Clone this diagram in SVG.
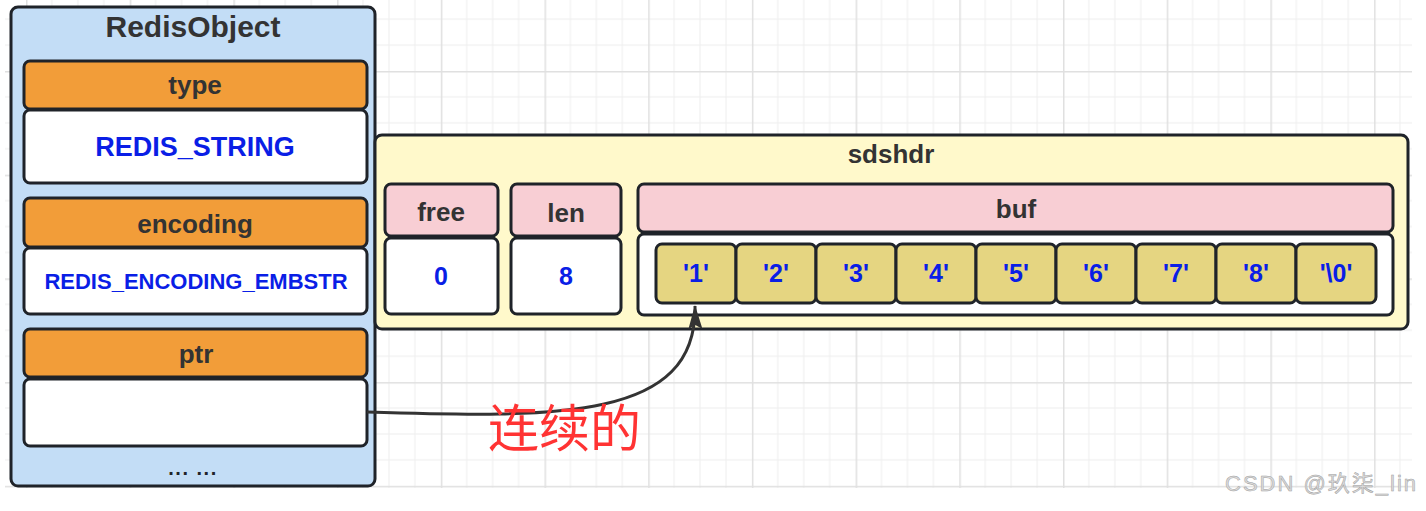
<svg xmlns="http://www.w3.org/2000/svg" width="1426" height="511" viewBox="0 0 1426 511">
<style>
.bx{stroke:#1f2329;stroke-width:3}
.hdr{font-family:"Liberation Sans",Arial,sans-serif;font-weight:bold;font-size:26px;fill:#333333;text-anchor:middle}
.val{font-family:"Liberation Sans",Arial,sans-serif;font-weight:bold;fill:#0a1ee6;text-anchor:middle}
.orange{fill:#f29d39}
.white{fill:#ffffff}
.pink{fill:#f8ced4}
.cell{fill:#e5d581}
</style>
<defs>
<pattern id="grid" patternUnits="userSpaceOnUse" x="26" y="71" width="103.7" height="103.7">
<path d="M25.9 0V103.7M51.85 0V103.7M77.8 0V103.7M0 25.9H103.7M0 51.85H103.7M0 77.8H103.7" stroke="#eeeeee" stroke-width="1" fill="none"/>
<path d="M0.75 0V103.7M0 0.75H103.7" stroke="#e0e0e0" stroke-width="1.5" fill="none"/>
</pattern>
<marker id="arr" markerUnits="userSpaceOnUse" viewBox="0 0 24 14" markerWidth="24" markerHeight="14" refX="23" refY="7" orient="auto">
<path d="M0 0L24 7L0 14L4 7z" fill="#333333"/>
</marker>
</defs>
<rect x="0" y="0" width="1426" height="511" fill="#ffffff"/>
<rect x="5" y="0" width="1407" height="488" fill="url(#grid)"/>

<g id="redisobject">
<rect class="bx" x="11" y="7" width="364" height="479" rx="7" fill="#c3ddf6"/>
<text class="hdr" x="193" y="37" style="font-size:30px">RedisObject</text>
</g>
<g id="type">
<rect class="bx orange" x="24" y="61" width="343" height="48" rx="6"/>
<text class="hdr" x="195" y="94">type</text>
</g>
<g id="type-value">
<rect class="bx white" x="24" y="110" width="343" height="73" rx="6"/>
<text class="val" x="195" y="156" font-size="27">REDIS_STRING</text>
</g>
<g id="encoding">
<rect class="bx orange" x="24" y="198" width="343" height="49" rx="6"/>
<text class="hdr" x="195" y="233">encoding</text>
</g>
<g id="encoding-value">
<rect class="bx white" x="24" y="248" width="343" height="66" rx="6"/>
<text class="val" x="196" y="289" font-size="22">REDIS_ENCODING_EMBSTR</text>
</g>
<g id="ptr">
<rect class="bx orange" x="24" y="329" width="343" height="48" rx="6"/>
<text class="hdr" x="196" y="363">ptr</text>
</g>
<g id="ptr-value">
<rect class="bx white" x="24" y="379" width="343" height="67" rx="6"/>
</g>
<g id="more">
<text x="193" y="475" font-family="Liberation Sans, Arial, sans-serif" font-weight="bold" font-size="20" fill="#1f2329" text-anchor="middle" letter-spacing="1.5">... ...</text>
</g>

<g id="sdshdr">
<rect class="bx" x="375" y="135" width="1033" height="194" rx="7" fill="#fff9cb"/>
<text class="hdr" x="891" y="163">sdshdr</text>
</g>
<g id="free">
<rect class="bx pink" x="385" y="184" width="113" height="52" rx="6"/>
<text class="hdr" x="441" y="221">free</text>
<rect class="bx white" x="385" y="238" width="113" height="76" rx="6"/>
<text class="val" x="441" y="285" font-size="25">0</text>
</g>
<g id="len">
<rect class="bx pink" x="511" y="184" width="110" height="52" rx="6"/>
<text class="hdr" x="566" y="222">len</text>
<rect class="bx white" x="511" y="238" width="110" height="76" rx="6"/>
<text class="val" x="566" y="285" font-size="25">8</text>
</g>
<g id="buf">
<rect class="bx pink" x="638" y="184" width="755" height="48" rx="6"/>
<text class="hdr" x="1016" y="218">buf</text>
<rect class="bx white" x="638" y="234" width="755" height="81" rx="6"/>
</g>
<g id="buf-cells">
<g id="c1"><rect class="bx cell" x="656" y="244" width="80" height="59" rx="6"/><text class="val" x="696" y="282" font-size="25">'1'</text></g>
<g id="c2"><rect class="bx cell" x="736" y="244" width="80" height="59" rx="6"/><text class="val" x="776" y="282" font-size="25">'2'</text></g>
<g id="c3"><rect class="bx cell" x="816" y="244" width="80" height="59" rx="6"/><text class="val" x="856" y="282" font-size="25">'3'</text></g>
<g id="c4"><rect class="bx cell" x="896" y="244" width="80" height="59" rx="6"/><text class="val" x="936" y="282" font-size="25">'4'</text></g>
<g id="c5"><rect class="bx cell" x="976" y="244" width="80" height="59" rx="6"/><text class="val" x="1016" y="282" font-size="25">'5'</text></g>
<g id="c6"><rect class="bx cell" x="1056" y="244" width="80" height="59" rx="6"/><text class="val" x="1096" y="282" font-size="25">'6'</text></g>
<g id="c7"><rect class="bx cell" x="1136" y="244" width="80" height="59" rx="6"/><text class="val" x="1176" y="282" font-size="25">'7'</text></g>
<g id="c8"><rect class="bx cell" x="1216" y="244" width="80" height="59" rx="6"/><text class="val" x="1256" y="282" font-size="25">'8'</text></g>
<g id="c9"><rect class="bx cell" x="1296" y="244" width="80" height="59" rx="6"/><text class="val" x="1336" y="282" font-size="25">'\0'</text></g>
</g>

<g id="connectors">
<path d="M367 412C560 418 697 420 695 306" fill="none" stroke="#333333" stroke-width="3" marker-end="url(#arr)"/>
<text x="488" y="447" font-family="Noto Sans CJK SC, sans-serif" font-size="51" fill="#ff3333">连续的</text>
</g>

<text x="1225" y="491" font-family="Liberation Sans, Noto Sans CJK SC, sans-serif" font-size="22" letter-spacing="2" fill="#dcdcdc" stroke="#a0a0a0" stroke-width="0.5">CSDN @玖柒_lin</text>
</svg>
